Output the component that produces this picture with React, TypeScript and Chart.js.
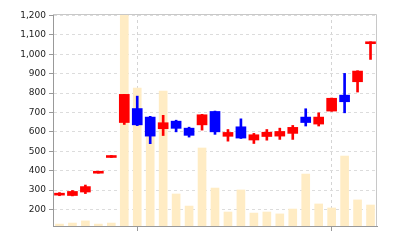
import React, { useEffect, useRef } from "react";
import { Chart, registerables } from "chart.js";

Chart.register(...registerables);

const categories = [
  "D01", "D02", "D03", "D04", "D05", "D06", "D07", "D08", "D09", "D10",
  "D11", "D12", "D13", "D14", "D15", "D16", "D17", "D18", "D19", "D20",
  "D21", "D22", "D23", "D24", "D25",
];
const opens = [274, 272, 290, 387, 468, 648, 720, 676, 616, 655, 619, 636, 705, 577, 626, 558, 576, 578, 592, 676, 640, 707, 789, 858, 1054];
const highs = [287, 298, 326, 397, 478, 793, 784, 680, 685, 660, 624, 690, 707, 612, 667, 592, 612, 619, 633, 719, 698, 774, 901, 915, 1064];
const lows = [271, 270, 282, 387, 468, 638, 632, 539, 581, 600, 573, 609, 587, 552, 566, 540, 557, 561, 561, 630, 630, 706, 698, 805, 973];
const closes = [284, 293, 318, 397, 478, 793, 636, 578, 647, 618, 582, 688, 600, 597, 568, 585, 598, 602, 623, 648, 676, 773, 755, 913, 1064];
const volumes = [9, 14, 24, 9, 14, 1000, 651, 510, 637, 151, 94, 368, 179, 66, 170, 61, 66, 57, 80, 245, 104, 85, 330, 123, 99];
const yTicks = [200, 300, 400, 500, 600, 700, 800, 900, 1000, 1100, 1200];
const markedCategories = [6, 21];

const UP = "#ff0000";
const DOWN = "#0000ff";

export default function App() {
  const ref = useRef<HTMLCanvasElement | null>(null);

  useEffect(() => {
    if (!ref.current) return;
    const colors = opens.map((o, i) => (closes[i] >= o ? UP : DOWN));
    const frame = {
      id: "frame",
      afterDraw(chart: any) {
        const { ctx, chartArea: a } = chart;
        ctx.save();
        ctx.strokeStyle = "#c8c8c8";
        ctx.lineWidth = 1;
        ctx.beginPath();
        ctx.moveTo(a.left, a.top + 0.5);
        ctx.lineTo(a.right - 0.5, a.top + 0.5);
        ctx.lineTo(a.right - 0.5, a.bottom);
        ctx.stroke();
        ctx.restore();
      },
    };
    const chart = new Chart(ref.current, {
      type: "bar",
      data: {
        labels: categories,
        datasets: [
          {
            label: "Body",
            data: opens.map((o, i) => [o, closes[i]]) as any,
            backgroundColor: colors,
            borderWidth: 0,
            barThickness: 10,
            grouped: false,
            order: 1,
            yAxisID: "y",
          },
          {
            label: "Wick",
            data: lows.map((l, i) => [l, highs[i]]) as any,
            backgroundColor: colors,
            borderWidth: 0,
            barThickness: 2,
            grouped: false,
            order: 2,
            yAxisID: "y",
          },
          {
            label: "Volume",
            data: volumes,
            backgroundColor: "#ffecc4",
            borderWidth: 0,
            barThickness: 8,
            grouped: false,
            order: 3,
            yAxisID: "y2",
          },
        ],
      },
      options: {
        animation: false,
        responsive: false,
        layout: { padding: { left: 0, top: 14, right: 23, bottom: 0 } },
        plugins: { legend: { display: false }, tooltip: { enabled: false } },
        scales: {
          x: {
            offset: true,
            grid: {
              offset: false,
              color: (c: any) => (markedCategories.includes(c.index) ? "#d4d4d4" : "rgba(0,0,0,0)"),
              tickColor: (c: any) => (markedCategories.includes(c.index) ? "#999999" : "rgba(0,0,0,0)"),
              tickLength: 5,
              tickBorderDash: [],
            },
            border: { color: "#999999", dash: [3, 3] },
            ticks: { callback: () => "", autoSkip: false, maxRotation: 0 },
            afterFit: (s: any) => {
              s.height = 14;
            },
          },
          y: {
            min: 115,
            max: 1207,
            afterBuildTicks: (s: any) => {
              s.ticks = yTicks.map((v) => ({ value: v }));
            },
            grid: {
              color: "#dcdcdc",
              tickColor: "#999999",
              tickLength: 4,
              tickBorderDash: [],
            },
            border: { color: "#999999", dash: [3, 3] },
            ticks: {
              padding: 3,
              color: "#222222",
              font: { family: "DejaVu Sans", size: 9 },
              callback: (v: any) => Number(v).toLocaleString("en-US"),
            },
            afterFit: (s: any) => {
              s.width = 53;
            },
          },
          y2: {
            display: false,
            min: 0,
            max: 1000,
          },
        },
      },
      plugins: [frame],
    });
    return () => chart.destroy();
  }, []);

  return (
    <div style={{ position: "absolute", left: 0, top: 0, width: 400, height: 240, background: "#fff" }}>
      <canvas ref={ref} width={400} height={240} style={{ width: 400, height: 240, display: "block" }} />
    </div>
  );
}
